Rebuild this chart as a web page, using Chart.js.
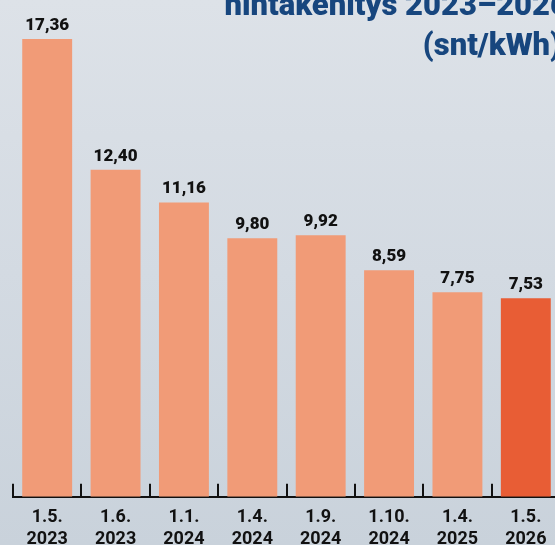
<!DOCTYPE html>
<html>
<head>
<meta charset="utf-8">
<script src="https://cdn.jsdelivr.net/npm/chart.js@4.4.1/dist/chart.umd.min.js"></script>
<style>
    html, body {
        margin: 0;
        padding: 0;
        width: 555px;
        height: 545px;
        overflow: hidden;
        background: linear-gradient(180deg, #dde2e8 0%, #d3dae2 50%, #c9d2db 100%);
    }
    #wrap {
        position: relative;
        width: 565px;
        height: 560px;
    }
</style>
</head>
<body>
<div id="wrap"><canvas id="price-chart" width="565" height="560"></canvas></div>
<script>
const dateLabels = ['1.5.', '1.6.', '1.1.', '1.4.', '1.9.', '1.10.', '1.4.', '1.5.'];
const yearLabels = ['2023', '2023', '2024', '2024', '2024', '2024', '2025', '2026'];
const prices = [17.36, 12.40, 11.16, 9.80, 9.92, 8.59, 7.75, 7.53];
const titleLines = ['hintakehitys 2023–2026', '(snt/kWh)'];

const barColor = '#f19b77';
const lastBarColor = '#e85d35';
const fontFamily = 'Roboto, "Open Sans", sans-serif';

const valueLabelPlugin = {
    id: 'valueLabels',
    afterDatasetsDraw(chart) {
        const ctx = chart.ctx;
        const meta = chart.getDatasetMeta(0);
        ctx.save();
        ctx.fillStyle = '#111';
        ctx.font = `900 17px ${fontFamily}`;
        ctx.textAlign = 'center';
        ctx.textBaseline = 'alphabetic';
        meta.data.forEach((bar, i) => {
            const text = prices[i].toFixed(2).replace('.', ',');
            ctx.fillText(text, bar.x, bar.y - 9);
        });
        ctx.restore();
    }
};

const tickMarkPlugin = {
    id: 'tickMarks',
    afterDatasetsDraw(chart) {
        const scale = chart.scales.x;
        const ctx = chart.ctx;
        const step = scale.width / prices.length;
        const bottom = chart.chartArea.bottom;
        ctx.save();
        ctx.strokeStyle = '#111';
        ctx.lineWidth = 2;
        prices.forEach((_, i) => {
            const x = Math.round(scale.getPixelForValue(i) - step / 2);
            ctx.beginPath();
            ctx.moveTo(x, bottom - 13);
            ctx.lineTo(x, bottom);
            ctx.stroke();
        });
        ctx.restore();
    }
};

const titlePlugin = {
    id: 'cornerTitle',
    afterDraw(chart) {
        const ctx = chart.ctx;
        ctx.save();
        ctx.fillStyle = '#17467e';
        ctx.font = `900 31px ${fontFamily}`;
        ctx.textAlign = 'right';
        ctx.textBaseline = 'alphabetic';
        ctx.fillText(titleLines[0], 568, 15);
        ctx.fillText(titleLines[1], 561, 55);
        ctx.restore();
    }
};

new Chart(document.getElementById('price-chart'), {
    type: 'bar',
    data: {
        labels: dateLabels.map((d, i) => [d, yearLabels[i]]),
        datasets: [{
            data: prices,
            backgroundColor: prices.map((_, i) => i === prices.length - 1 ? lastBarColor : barColor),
            borderWidth: 0,
            barPercentage: 0.73,
            categoryPercentage: 1
        }]
    },
    options: {
        responsive: false,
        animation: false,
        layout: {
            padding: { top: 22, left: 13, right: 5, bottom: 0 }
        },
        plugins: {
            legend: { display: false },
            tooltip: { enabled: false }
        },
        scales: {
            y: {
                display: false,
                min: 0,
                max: 18
            },
            x: {
                offset: true,
                grid: {
                    display: true,
                    drawOnChartArea: false,
                    drawTicks: false,
                    offset: true
                },
                border: {
                    display: true,
                    color: '#111',
                    width: 2
                },
                ticks: {
                    color: '#111',
                    padding: 10,
                    maxRotation: 0,
                    autoSkip: false,
                    font: {
                        family: fontFamily,
                        size: 18,
                        weight: 'bold',
                        lineHeight: 1.2
                    }
                }
            }
        }
    },
    plugins: [valueLabelPlugin, tickMarkPlugin, titlePlugin]
});
</script>
</body>
</html>
